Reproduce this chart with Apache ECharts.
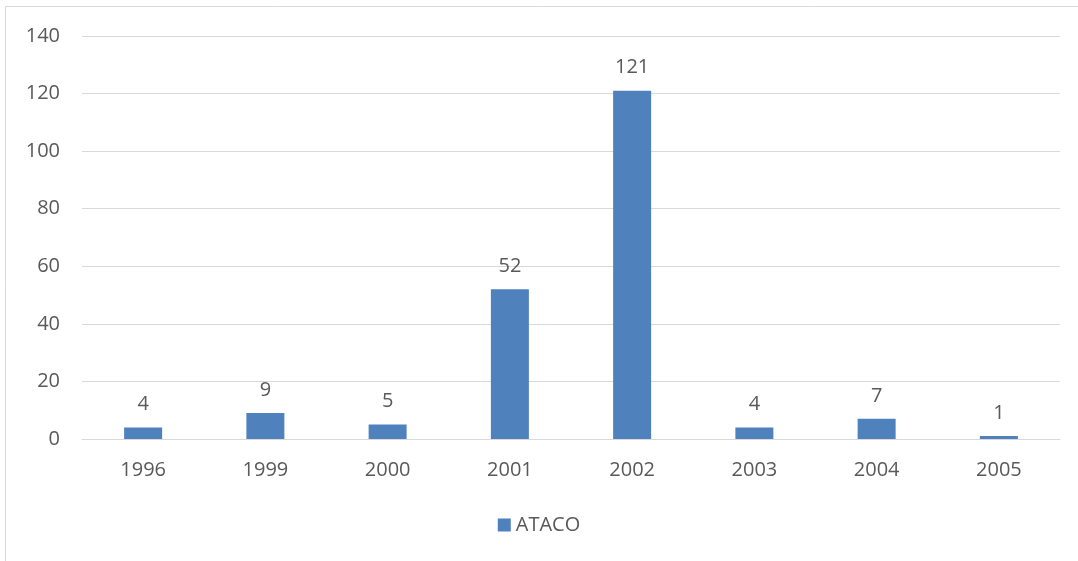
<!DOCTYPE html>
<html>
<head>
<meta charset="utf-8">
<title>ATACO</title>
<script src="https://cdn.jsdelivr.net/npm/echarts@6/dist/echarts.min.js"></script>
<style>
  html, body { margin: 0; padding: 0; background: #fff; }
  #chart { width: 1078px; height: 561px; }
</style>
</head>
<body>
<div id="chart"></div>
<script>
  // data
  var years = ['1996', '1999', '2000', '2001', '2002', '2003', '2004', '2005']
  var ataco = [4, 9, 5, 52, 121, 4, 7, 1]
  var seriesName = 'ATACO'

  var textColor = '#595959'
  var gridColor = '#d9d9d9'
  var font = 'Open Sans'

  var chart = echarts.init(document.getElementById('chart'))
  chart.setOption({
    animation: false,
    textStyle: { fontFamily: font },
    graphic: [{
      type: 'rect',
      shape: { x: 5.5, y: 6.5, width: 1200, height: 700 },
      style: { fill: 'none', stroke: gridColor, lineWidth: 1 },
      silent: true
    }],
    grid: {
      left: 82,
      right: 18,
      top: 36,
      bottom: 122
    },
    legend: {
      data: [seriesName],
      bottom: 21,
      left: 'center',
      icon: 'rect',
      itemWidth: 13,
      itemHeight: 13,
      itemGap: 8,
      textStyle: { color: textColor, fontSize: 20, fontFamily: font }
    },
    xAxis: {
      type: 'category',
      data: years,
      axisTick: { show: false },
      axisLine: { lineStyle: { color: gridColor, width: 1 } },
      axisLabel: { color: textColor, fontSize: 20, margin: 21, fontFamily: font }
    },
    yAxis: {
      type: 'value',
      min: 0,
      max: 140,
      interval: 20,
      axisLine: { show: false },
      axisTick: { show: false },
      axisLabel: { color: textColor, fontSize: 20, margin: 22, fontFamily: font },
      splitLine: { lineStyle: { color: gridColor, width: 1 } }
    },
    series: [{
      name: seriesName,
      type: 'bar',
      data: ataco,
      barWidth: 38,
      itemStyle: { color: '#4f81bd' },
      label: {
        show: true,
        position: 'top',
        distance: 13,
        color: textColor,
        fontSize: 20,
        fontFamily: font
      }
    }]
  })
</script>
</body>
</html>
